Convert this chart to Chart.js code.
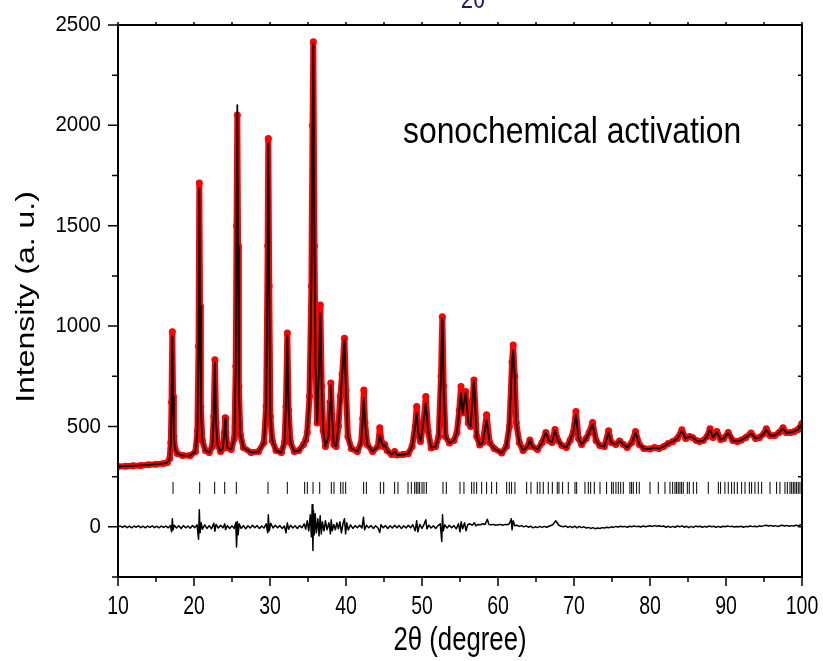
<!DOCTYPE html>
<html>
<head>
<meta charset="utf-8">
<script src="https://cdn.jsdelivr.net/npm/chart.js@4.4.1/dist/chart.umd.min.js"></script>
<style>
  body { margin: 0; background: #fff; }
  canvas { display: block; }
</style>
</head>
<body>
<canvas id="xrd" width="823" height="661"></canvas>
<script>
// observed pattern, [2theta, counts]
var observed = [
  [10.0,300],[11.0,302],[12.0,304],[13.0,306],[14.0,309],[15.0,312],[16.0,316],[16.5,320],[16.8,340],[16.95,420],
  [17.05,620],[17.15,972],[17.25,650],[17.35,450],[17.5,390],[17.8,365],[18.5,355],[19.5,355],[20.2,375],[20.45,480],
  [20.6,900],[20.7,1713],[20.8,1100],[20.9,600],[21.1,430],[21.5,380],[22.0,370],[22.4,400],[22.6,550],[22.75,832],
  [22.9,520],[23.1,410],[23.5,375],[23.8,390],[24.0,470],[24.1,543],[24.2,470],[24.4,395],[24.9,385],[25.3,440],
  [25.5,800],[25.6,1500],[25.7,2052],[25.8,1400],[25.9,700],[26.1,460],[26.5,395],[27.5,370],[28.5,375],[29.2,420],
  [29.5,600],[29.7,1400],[29.78,1935],[29.9,1200],[30.05,550],[30.3,430],[30.8,380],[31.5,370],[31.9,420],[32.1,600],
  [32.28,965],[32.45,580],[32.7,420],[33.2,375],[33.8,380],[34.4,410],[34.7,433],[34.9,470],[35.2,650],[35.45,1200],
  [35.6,2000],[35.7,2417],[35.85,1400],[36.0,800],[36.2,517],[36.45,800],[36.62,1105],[36.8,700],[37.0,480],[37.3,400],
  [37.7,450],[37.9,620],[38.0,717],[38.15,560],[38.4,410],[38.7,400],[39.0,500],[39.25,650],[39.5,760],[39.8,940],
  [40.0,680],[40.25,450],[40.7,390],[41.5,375],[42.0,420],[42.2,540],[42.35,682],[42.5,520],[42.8,410],[43.5,375],
  [44.2,400],[44.45,493],[44.7,420],[44.95,400],[45.1,410],[45.4,380],[46.0,360],[46.4,375],[46.7,358],[47.5,360],
  [48.2,365],[48.7,400],[49.1,500],[49.3,599],[49.5,470],[49.8,425],[50.2,520],[50.5,649],[50.8,480],[51.2,393],
  [51.8,400],[52.2,450],[52.5,750],[52.68,1047],[52.85,700],[53.1,450],[53.6,418],[54.2,430],[54.6,470],[54.9,580],
  [55.13,699],[55.35,567],[55.75,674],[56.1,517],[56.4,500],[56.84,732],[57.2,450],[57.6,408],[58.0,420],[58.5,558],
  [58.9,420],[59.5,390],[60.5,368],[61.1,400],[61.5,500],[61.85,820],[62.0,906],[62.2,750],[62.4,520],[62.8,420],
  [63.3,380],[63.9,400],[64.2,433],[64.5,400],[65.2,385],[65.8,420],[66.3,470],[66.7,430],[67.1,420],[67.5,485],
  [67.9,430],[68.4,405],[69.0,395],[69.5,433],[69.9,470],[70.26,574],[70.6,440],[71.0,410],[71.6,440],[72.0,470],
  [72.45,520],[72.9,430],[73.4,405],[74.0,400],[74.55,478],[74.9,420],[75.5,410],[76.0,428],[76.5,410],[77.0,395],
  [77.6,420],[78.1,475],[78.6,410],[79.2,390],[80.0,388],[80.6,395],[81.2,390],[81.8,400],[82.4,415],[83.0,425],
  [83.6,440],[84.2,483],[84.7,440],[85.2,450],[85.6,445],[86.1,430],[86.5,425],[87.0,430],[87.5,450],[87.9,488],
  [88.3,445],[88.8,475],[89.3,435],[89.7,440],[90.3,470],[90.9,430],[91.5,425],[92.0,432],[92.6,445],[93.3,468],
  [93.9,440],[94.4,445],[95.0,465],[95.3,488],[95.8,455],[96.4,455],[97.0,470],[97.5,493],[97.9,470],[98.5,470],
  [99.0,475],[99.5,485],[100.0,515]
];

// calculated (fitted) pattern
var calculated = [
  [10.0,300],[11.0,302],[12.0,304],[13.0,306],[14.0,309],[15.0,312],[16.0,316],[16.5,320],[16.8,340],[16.95,420],
  [17.05,620],[17.15,950],[17.25,650],[17.35,450],[17.5,390],[17.8,365],[18.5,355],[19.5,355],[20.2,375],[20.45,480],
  [20.6,900],[20.7,1690],[20.8,1100],[20.9,600],[21.1,430],[21.5,380],[22.0,370],[22.4,400],[22.6,550],[22.75,820],
  [22.9,520],[23.1,410],[23.5,375],[23.8,390],[24.0,470],[24.1,540],[24.2,470],[24.4,395],[24.9,385],[25.3,440],
  [25.5,800],[25.6,1500],[25.7,2101],[25.8,1400],[25.9,700],[26.1,460],[26.5,395],[27.5,370],[28.5,375],[29.2,420],
  [29.5,600],[29.7,1400],[29.78,1912],[29.9,1200],[30.05,550],[30.3,430],[30.8,380],[31.5,370],[31.9,420],[32.1,600],
  [32.28,955],[32.45,580],[32.7,420],[33.2,375],[33.8,380],[34.4,410],[34.7,433],[34.9,470],[35.2,650],[35.45,1200],
  [35.6,2000],[35.7,2405],[35.85,1400],[36.0,800],[36.2,517],[36.45,800],[36.62,1065],[36.8,700],[37.0,480],[37.3,400],
  [37.7,450],[37.9,620],[38.0,705],[38.15,560],[38.4,410],[38.7,400],[39.0,500],[39.25,620],[39.5,760],[39.8,930],
  [40.0,680],[40.25,450],[40.7,390],[41.5,375],[42.0,420],[42.2,540],[42.35,642],[42.5,520],[42.8,410],[43.5,375],
  [44.2,400],[44.45,458],[44.7,420],[44.95,400],[45.1,410],[45.4,380],[46.0,360],[46.4,375],[46.7,358],[47.5,360],
  [48.2,365],[48.7,400],[49.1,500],[49.3,567],[49.5,470],[49.8,425],[50.2,520],[50.5,617],[50.8,480],[51.2,393],
  [51.8,400],[52.2,450],[52.5,750],[52.68,1040],[52.85,700],[53.1,450],[53.6,418],[54.2,430],[54.6,470],[54.9,580],
  [55.13,667],[55.35,567],[55.75,670],[56.1,517],[56.4,500],[56.84,730],[57.2,450],[57.6,408],[58.0,420],[58.5,533],
  [58.9,420],[59.5,390],[60.5,368],[61.1,400],[61.5,500],[61.85,820],[62.0,881],[62.2,750],[62.4,520],[62.8,420],
  [63.3,380],[63.9,400],[64.2,433],[64.5,400],[65.2,385],[65.8,420],[66.3,470],[66.7,430],[67.1,420],[67.5,480],
  [67.9,430],[68.4,405],[69.0,395],[69.5,433],[69.9,470],[70.26,560],[70.6,440],[71.0,410],[71.6,440],[72.0,470],
  [72.45,510],[72.9,430],[73.4,405],[74.0,400],[74.55,470],[74.9,420],[75.5,410],[76.0,428],[76.5,410],[77.0,395],
  [77.6,420],[78.1,470],[78.6,410],[79.2,390],[80.0,388],[80.6,395],[81.2,390],[81.8,400],[82.4,415],[83.0,425],
  [83.6,440],[84.2,478],[84.7,440],[85.2,450],[85.6,445],[86.1,430],[86.5,425],[87.0,430],[87.5,450],[87.9,485],
  [88.3,445],[88.8,472],[89.3,435],[89.7,440],[90.3,468],[90.9,430],[91.5,425],[92.0,432],[92.6,445],[93.3,465],
  [93.9,440],[94.4,445],[95.0,465],[95.3,485],[95.8,455],[96.4,455],[97.0,470],[97.5,490],[97.9,470],[98.5,470],
  [99.0,475],[99.5,485],[100.0,510]
];

// obs - calc
var difference = [
  [10.0,0],[10.3,4],[10.6,-3],[10.9,5],[11.2,-4],[11.5,3],[11.8,-5],[12.1,4],[12.4,-2],[12.7,5],[13.0,-4],[13.3,3],
  [13.6,-5],[13.9,4],[14.2,-3],[14.5,5],[14.8,-4],[15.1,3],[15.4,-5],[15.7,4],[16.0,-3],[16.3,4],[16.6,-5],[16.9,6],
  [17.05,-25],[17.15,40],[17.25,-15],[17.4,8],[17.7,-6],[18.0,5],[18.3,-8],[18.6,6],[18.9,-5],[19.2,4],[19.5,-7],[19.8,6],
  [20.1,-4],[20.4,10],[20.6,-62],[20.7,85],[20.8,-30],[20.95,20],[21.1,-12],[21.4,10],[21.7,-8],[22.0,6],[22.3,-10],[22.6,18],
  [22.75,-22],[22.9,12],[23.2,-6],[23.5,8],[23.8,-5],[24.05,15],[24.15,-14],[24.4,6],[24.7,-8],[25.0,5],[25.3,-8],[25.5,22],
  [25.6,-100],[25.7,27],[25.8,-40],[25.95,15],[26.2,-8],[26.5,6],[26.8,-10],[27.1,5],[27.4,-6],[27.7,8],[28.0,-5],[28.3,6],
  [28.6,-8],[28.9,4],[29.2,-6],[29.5,15],[29.7,-30],[29.78,60],[29.9,-20],[30.1,18],[30.4,-6],[30.7,8],[31.0,-5],[31.3,6],
  [31.6,-8],[31.9,4],[32.1,-30],[32.28,20],[32.45,-12],[32.7,8],[33.0,-6],[33.3,5],[33.6,-8],[33.9,6],[34.2,-5],[34.5,15],
  [34.7,-12],[34.9,30],[35.1,-20],[35.3,60],[35.45,-50],[35.55,110],[35.65,-118],[35.72,80],[35.82,-40],[35.95,65],[36.1,-30],[36.3,40],
  [36.45,-45],[36.6,55],[36.75,-35],[36.9,25],[37.1,-20],[37.3,30],[37.5,-15],[37.75,20],[37.95,-35],[38.05,35],[38.2,-20],[38.4,12],
  [38.6,-15],[38.8,20],[39.0,-10],[39.2,25],[39.4,-30],[39.6,15],[39.8,40],[39.95,-35],[40.1,20],[40.3,-15],[40.6,10],[40.9,-8],
  [41.2,6],[41.5,-5],[41.8,8],[42.1,-6],[42.3,48],[42.45,-15],[42.7,8],[43.0,-5],[43.3,6],[43.6,-8],[43.9,5],[44.2,-6],
  [44.45,-28],[44.6,10],[44.9,-5],[45.2,6],[45.5,-8],[45.8,5],[46.1,-6],[46.4,8],[46.7,-5],[47.0,6],[47.3,-8],[47.6,5],
  [47.9,-6],[48.2,8],[48.5,-5],[48.8,10],[49.1,-20],[49.3,30],[49.45,-25],[49.7,12],[50.0,-8],[50.3,15],[50.5,35],[50.65,-10],
  [50.9,8],[51.2,-6],[51.5,5],[51.8,-8],[52.1,6],[52.4,15],[52.6,-73],[52.7,60],[52.8,-20],[53.0,10],[53.3,-6],[53.6,8],
  [53.9,-5],[54.2,6],[54.5,-10],[54.8,15],[55.0,-25],[55.15,25],[55.35,-10],[55.6,20],[55.8,-20],[56.0,10],[56.3,15],[56.6,8],
  [56.9,20],[57.1,5],[57.4,12],[57.7,10],[58.0,15],[58.3,12],[58.6,38],[58.8,12],[59.1,10],[59.4,12],[59.7,8],[60.0,10],
  [60.3,12],[60.6,8],[60.9,12],[61.2,10],[61.5,15],[61.75,40],[61.85,-15],[62.0,30],[62.2,5],[62.5,8],[62.8,2],[63.1,6],
  [63.4,0],[63.7,5],[64.0,-2],[64.3,3],[64.6,-5],[64.9,0],[65.2,-4],[65.5,2],[65.8,-3],[66.1,2],[66.4,-2],[66.8,4],
  [67.2,10],[67.6,30],[68.0,8],[68.3,3],[68.6,0],[68.9,4],[69.2,-3],[69.5,2],[69.8,-4],[70.1,3],[70.4,-5],[70.7,2],
  [71.0,-4],[71.3,0],[71.6,-6],[71.9,-3],[72.2,-8],[72.5,-4],[72.8,-10],[73.1,-6],[73.4,-8],[73.7,-4],[74.0,-6],[74.3,-2],
  [74.6,-5],[74.9,0],[75.2,-3],[75.5,2],[75.8,-1],[76.1,3],[76.4,0],[76.7,2],[77.0,-2],[77.3,3],[77.6,0],[77.9,4],
  [78.2,1],[78.5,3],[78.8,-1],[79.1,4],[79.4,0],[79.7,3],[80.0,5],[80.3,2],[80.6,6],[80.9,3],[81.2,5],[81.5,2],
  [81.8,4],[82.1,-2],[82.4,3],[82.7,-3],[83.0,2],[83.3,-2],[83.6,4],[83.9,0],[84.2,5],[84.5,-2],[84.8,3],[85.1,-4],
  [85.4,2],[85.7,-3],[86.0,4],[86.3,0],[86.6,3],[86.9,-2],[87.2,2],[87.5,-1],[87.8,4],[88.1,0],[88.4,3],[88.7,-3],
  [89.0,2],[89.3,-2],[89.6,3],[89.9,0],[90.2,4],[90.5,1],[90.8,3],[91.1,-1],[91.4,2],[91.7,0],[92.0,3],[92.3,-2],
  [92.6,2],[92.9,0],[93.2,4],[93.5,1],[93.8,3],[94.1,0],[94.4,5],[94.7,2],[95.0,6],[95.3,8],[95.6,4],[95.9,7],
  [96.2,3],[96.5,6],[96.8,2],[97.1,5],[97.4,8],[97.7,4],[98.0,7],[98.3,3],[98.6,6],[98.9,4],[99.2,8],[99.5,5],
  [99.8,10],[100.0,12]
];

// Bragg reflection positions (2theta)
var braggPositions = [
  17.24,20.75,22.72,24.04,25.57,29.74,32.28,34.56,34.91,35.66,36.54,38.07,38.42,39.30,39.61,39.96,42.32,42.68,
  44.52,44.96,46.40,46.84,48.16,48.60,49.04,49.25,49.47,49.69,50.00,50.26,50.57,52.76,53.20,
  55.00,55.52,56.53,56.84,57.19,57.85,58.50,59.16,59.82,61.14,61.49,61.79,62.23,63.77,64.34,65.17,65.52,65.96,
  66.62,67.15,67.80,68.02,68.50,69.25,70.13,70.35,71.44,71.88,72.19,72.67,73.42,74.29,74.95,75.17,75.52,75.83,
  76.14,76.49,77.36,77.58,77.80,78.24,78.59,80.00,81.09,81.97,82.63,82.98,83.29,83.50,83.72,83.94,84.16,84.38,
  84.91,85.17,85.70,86.14,87.67,88.99,89.29,89.86,90.30,90.74,91.09,91.49,92.06,92.50,93.07,93.37,93.81,94.25,
  94.69,95.79,96.66,97.10,97.76,98.07,98.42,98.64,98.86,99.07,99.29,99.51,99.73
];
var braggLevel = 194;

var xTicks = [10, 20, 30, 40, 50, 60, 70, 80, 90, 100];
var yTicks = [0, 500, 1000, 1500, 2000, 2500];

function toPoints(list) {
  return list.map(function (p) { return { x: p[0], y: p[1] }; });
}

var sans = "'Liberation Sans', Arial, sans-serif";

// text squeezed sideways, like the original figure
function squeezed(ctx, text, x, y, sx) {
  ctx.save();
  ctx.translate(x, y);
  ctx.scale(sx, 1);
  ctx.fillText(text, 0, 0);
  ctx.restore();
}

var frame = {
  id: 'frame',
  afterDraw: function (chart) {
    var ctx = chart.ctx, a = chart.chartArea, x = chart.scales.x, y = chart.scales.y;
    ctx.save();
    ctx.strokeStyle = '#000';
    ctx.lineWidth = 2;
    ctx.strokeRect(a.left, a.top, a.right - a.left, a.bottom - a.top);
    ctx.lineWidth = 1.5;
    ctx.beginPath();
    for (var v = 10; v <= 100; v += 5) {
      var px = x.getPixelForValue(v);
      var major = v % 10 === 0;
      ctx.moveTo(px, a.bottom);
      ctx.lineTo(px, a.bottom + (major ? 9 : 5));
      ctx.moveTo(px, a.top);
      ctx.lineTo(px, a.top - 3);
    }
    for (var w = -250; w <= 2500; w += 250) {
      var py = y.getPixelForValue(w);
      var maj = w % 500 === 0;
      ctx.moveTo(a.left, py);
      ctx.lineTo(a.left - (maj ? 10 : 6), py);
      ctx.moveTo(a.right, py);
      ctx.lineTo(a.right - 4, py);
    }
    ctx.stroke();

    ctx.fillStyle = '#000';
    ctx.textBaseline = 'middle';

    // tick labels
    ctx.font = '25px ' + sans;
    ctx.textAlign = 'center';
    xTicks.forEach(function (t) {
      squeezed(ctx, String(t), x.getPixelForValue(t), 607, 0.78);
    });
    ctx.font = '22px ' + sans;
    ctx.textAlign = 'right';
    yTicks.forEach(function (t) {
      squeezed(ctx, String(t), 101, y.getPixelForValue(t), 0.93);
    });

    // axis titles
    ctx.font = '33px ' + sans;
    ctx.textAlign = 'center';
    squeezed(ctx, '2\u03b8 (degree)', (a.left + a.right) / 2, 641, 0.78);

    ctx.save();
    ctx.translate(27, 297);
    ctx.rotate(-Math.PI / 2);
    ctx.scale(1, 0.8);
    ctx.font = '32px ' + sans;
    ctx.fillText('Intensity (a. u.)', 0, 0);
    ctx.restore();

    ctx.font = '36px ' + sans;
    ctx.textAlign = 'left';
    squeezed(ctx, 'sonochemical activation', 403, 133, 0.885);

    ctx.fillStyle = '#1c1c6e';
    ctx.font = '26px ' + sans;
    ctx.textAlign = 'center';
    ctx.textBaseline = 'alphabetic';
    squeezed(ctx, '2\u03b8', 473, 8, 0.85);
    ctx.restore();
  }
};

new Chart(document.getElementById('xrd').getContext('2d'), {
  type: 'scatter',
  data: {
    datasets: [
      {
        label: 'Bragg positions',
        data: braggPositions.map(function (t) { return { x: t, y: braggLevel }; }),
        showLine: false,
        pointStyle: 'line',
        rotation: 90,
        pointRadius: 6,
        borderColor: '#000',
        borderWidth: 1,
        order: 0
      },
      {
        label: 'Difference',
        data: toPoints(difference),
        showLine: true,
        pointRadius: 0,
        borderColor: '#000',
        borderWidth: 1.5,
        borderJoinStyle: 'round',
        order: 1
      },
      {
        label: 'Calculated',
        data: toPoints(calculated),
        showLine: true,
        pointRadius: 0,
        borderColor: '#000',
        borderWidth: 1.8,
        borderJoinStyle: 'round',
        order: 2
      },
      {
        label: 'Observed',
        data: toPoints(observed),
        showLine: true,
        pointRadius: 3.5,
        pointBackgroundColor: '#ff0000',
        pointBorderWidth: 0,
        borderColor: '#ff0000',
        borderWidth: 6,
        borderJoinStyle: 'round',
        borderCapStyle: 'round',
        order: 3
      }
    ]
  },
  options: {
    responsive: false,
    devicePixelRatio: 1,
    animation: false,
    layout: { padding: { top: 25, right: 21, left: 0, bottom: 0 } },
    plugins: { legend: { display: false }, tooltip: { enabled: false } },
    scales: {
      x: {
        type: 'linear',
        min: 10,
        max: 100,
        grid: { display: false },
        border: { display: false },
        ticks: { display: false },
        afterFit: function (scale) {
          scale.height = 84;
          scale.paddingLeft = 0;
          scale.paddingRight = 0;
        }
      },
      y: {
        type: 'linear',
        min: -250,
        max: 2500,
        grid: { display: false },
        border: { display: false },
        ticks: { display: false },
        afterFit: function (scale) {
          scale.width = 118;
          scale.paddingTop = 0;
          scale.paddingBottom = 0;
        }
      }
    }
  },
  plugins: [frame]
});
</script>
</body>
</html>
